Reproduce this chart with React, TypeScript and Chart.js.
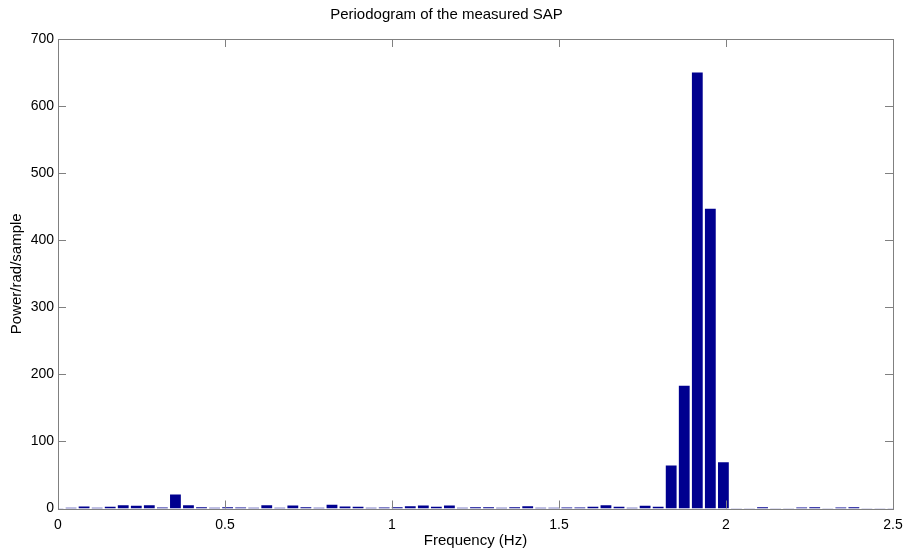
import React, { useEffect, useRef } from "react";
import { Chart, registerables } from "chart.js";

Chart.register(...registerables);

const titleText = "Periodogram of the measured SAP";
const xTitle = "Frequency (Hz)";
const yTitle = "Power/rad/sample";

const frequencies = [
  0, 0.0391, 0.0781, 0.1172, 0.1563, 0.1953, 0.2344, 0.2734, 0.3125, 0.3516,
  0.3906, 0.4297, 0.4688, 0.5078, 0.5469, 0.5859, 0.625, 0.6641, 0.7031, 0.7422,
  0.7813, 0.8203, 0.8594, 0.8984, 0.9375, 0.9766, 1.0156, 1.0547, 1.0938, 1.1328,
  1.1719, 1.2109, 1.25, 1.2891, 1.3281, 1.3672, 1.4063, 1.4453, 1.4844, 1.5234,
  1.5625, 1.6016, 1.6406, 1.6797, 1.7188, 1.7578, 1.7969, 1.8359, 1.875, 1.9141,
  1.9531, 1.9922, 2.0313, 2.0703, 2.1094, 2.1484, 2.1875, 2.2266, 2.2656, 2.3047,
  2.3438, 2.3828, 2.4219, 2.4609, 2.5,
];

const power = [
  0.3, 1, 3, 1, 2.5, 5, 4, 5, 1.5, 21,
  5, 2, 1, 2, 1.5, 1, 5, 1, 4.5, 2,
  1, 5.5, 3, 2.5, 1, 1.5, 2, 3.5, 4.5, 2.5,
  4.5, 1, 2, 2, 1, 2, 3.5, 1, 1, 1.5,
  1.5, 2.5, 5, 2.5, 1, 4, 2.5, 64, 183, 650,
  447, 69, 0.5, 0.5, 2, 0.5, 0.5, 1.5, 2, 0.5,
  1.5, 2, 0.5, 0.5, 0.5,
];

const xTicks = [0, 0.5, 1, 1.5, 2, 2.5];
const yTicks = [0, 100, 200, 300, 400, 500, 600, 700];

const FONT = "'Liberation Sans', Arial, Helvetica, sans-serif";
const AXIS_COLOR = "#808080";

const boxPlugin = {
  id: "matlabBox",
  afterDraw(chart: any) {
    const { ctx, chartArea } = chart;
    const { left, right, top, bottom } = chartArea;
    const xs = chart.scales.x;
    const ys = chart.scales.y;
    const len = 8;
    ctx.save();
    ctx.strokeStyle = AXIS_COLOR;
    ctx.lineWidth = 1;
    ctx.beginPath();
    xTicks.slice(1, -1).forEach((v) => {
      const px = Math.round(xs.getPixelForValue(v)) + 0.5;
      ctx.moveTo(px, bottom);
      ctx.lineTo(px, bottom - len);
      ctx.moveTo(px, top);
      ctx.lineTo(px, top + len);
    });
    yTicks.slice(1, -1).forEach((v) => {
      const py = Math.round(ys.getPixelForValue(v)) + 0.5;
      ctx.moveTo(left, py);
      ctx.lineTo(left + len, py);
      ctx.moveTo(right, py);
      ctx.lineTo(right - len, py);
    });
    ctx.stroke();
    ctx.strokeRect(
      Math.round(left) + 0.5,
      Math.round(top) + 0.5,
      Math.round(right) - Math.round(left),
      Math.round(bottom) - Math.round(top)
    );
    ctx.restore();
  },
};

export default function App() {
  const ref = useRef<HTMLCanvasElement | null>(null);

  useEffect(() => {
    if (!ref.current) return;
    const chart = new Chart(ref.current, {
      type: "bar",
      data: {
        datasets: [
          {
            data: frequencies.map((f, i) => ({ x: f, y: power[i] })),
            backgroundColor: "#00008F",
            borderWidth: 0,
            categoryPercentage: 0.83,
            barPercentage: 1,
          },
        ],
      },
      options: {
        responsive: false,
        animation: false,
        devicePixelRatio: 1,
        layout: { padding: { left: 0, right: 11, top: 0, bottom: 0 } },
        plugins: {
          legend: { display: false },
          tooltip: { enabled: false },
          title: {
            display: true,
            text: titleText,
            color: "#000",
            font: { family: FONT, size: 15, weight: "normal", lineHeight: 1.2 },
            padding: { top: 6, bottom: 15 },
          },
        },
        scales: {
          x: {
            type: "linear",
            min: 0,
            max: 2.5,
            offset: false,
            afterBuildTicks: (s: any) => {
              s.ticks = xTicks.map((v) => ({ value: v }));
            },
            afterFit: (s: any) => {
              s.height = 43.5;
              s.paddingLeft = 0;
              s.paddingRight = 0;
            },
            grid: { display: false, drawTicks: false },
            border: { display: false },
            ticks: {
              color: "#000",
              padding: 8,
              maxRotation: 0,
              autoSkip: false,
              font: { family: FONT, size: 14 },
              callback: (v: any) => String(v),
            },
            title: {
              display: true,
              text: xTitle,
              color: "#000",
              font: { family: FONT, size: 15, lineHeight: 1.2 },
              padding: { top: 0, bottom: 2 },
            },
          },
          y: {
            min: 0,
            max: 700,
            afterBuildTicks: (s: any) => {
              s.ticks = yTicks.map((v) => ({ value: v }));
            },
            afterFit: (s: any) => {
              s.width = 58;
              s.paddingTop = 0;
              s.paddingBottom = 0;
            },
            grid: { display: false, drawTicks: false },
            border: { display: false },
            ticks: {
              color: "#000",
              padding: 4,
              autoSkip: false,
              font: { family: FONT, size: 14 },
            },
            title: {
              display: true,
              text: yTitle,
              color: "#000",
              font: { family: FONT, size: 15, lineHeight: 1.2 },
              padding: { top: 8, bottom: 0 },
            },
          },
        },
      },
      plugins: [boxPlugin],
    } as any);
    return () => chart.destroy();
  }, []);

  return (
    <div style={{ position: "fixed", left: 0, top: 0, width: 904, height: 552, background: "#fff" }}>
      <canvas ref={ref} width={904} height={552} style={{ width: 904, height: 552, display: "block" }} />
    </div>
  );
}
